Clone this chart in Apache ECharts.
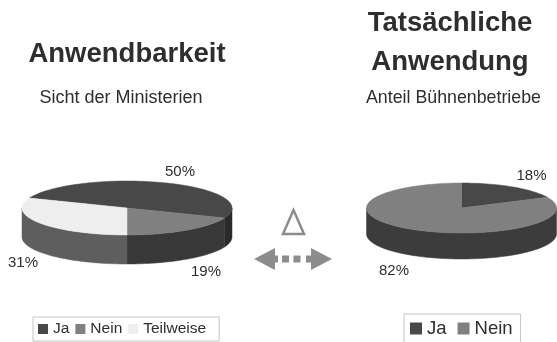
<!DOCTYPE html>
<html>
<head>
<meta charset="utf-8">
<style>html,body{margin:0;padding:0;background:#fff}#chart{width:557px;height:342px}</style>
<script src="https://cdn.jsdelivr.net/npm/echarts@6/dist/echarts.min.js"></script>
</head>
<body>
<div id="chart"></div>
<script>
// Anteile je Antwort, in Prozent
const leftCategories = ['Ja', 'Nein', 'Teilweise'];
const leftValues = [50, 19, 31];
const rightCategories = ['Ja', 'Nein'];
const rightValues = [18, 82];

const FONT = '"Liberation Sans", Arial, sans-serif';
const topColors = { Ja: '#484848', Nein: '#808080', Teilweise: '#eeeeee' };
const leftSideColors = { Ja: '#2a2a2a', Nein: '#383838', Teilweise: '#5e5e5e' };
const rightSideColors = { Ja: '#2a2a2a', Nein: '#3c3c3c' };

const leftPie = { cx: 127, cy: 208, rx: 105, ry: 27, depth: 29, startDeg: 201.6 };
const rightPie = { cx: 461.5, cy: 208, rx: 95, ry: 25, depth: 26, startDeg: -90 };

function ellipsePoint(pie, deg, dy) {
  const t = deg * Math.PI / 180;
  return [pie.cx + pie.rx * Math.cos(t), pie.cy + pie.ry * Math.sin(t) + (dy || 0)];
}

function arcPoints(pie, from, to, dy) {
  const pts = [];
  const steps = Math.max(2, Math.ceil(Math.abs(to - from) / 2));
  for (let i = 0; i <= steps; i++) pts.push(ellipsePoint(pie, from + (to - from) * i / steps, dy));
  return pts;
}

// Sichtbare Mantelstücke einer Scheibe: nur der Teil zwischen 0° und 180°
function frontRanges(from, to) {
  const out = [];
  for (let k = -1; k <= 2; k++) {
    const a = Math.max(from, 360 * k), b = Math.min(to, 360 * k + 180);
    if (b > a) out.push([a, b]);
  }
  return out;
}

// Eine Serie je Tortenstück, damit die Legende echte Einträge bekommt
function sliceSeries(pie, categories, values, sideColors) {
  const total = values.reduce((s, v) => s + v, 0);
  let acc = 0;
  return categories.map((name, i) => {
    const from = pie.startDeg + acc / total * 360;
    acc += values[i];
    const to = pie.startDeg + acc / total * 360;
    return {
      type: 'custom',
      name,
      coordinateSystem: 'none',
      silent: true,
      itemStyle: { color: topColors[name] },
      data: [[values[i]]],
      renderItem() {
        const children = frontRanges(from, to).map(([a, b]) => ({
          type: 'polygon',
          shape: { points: arcPoints(pie, a, b, 0).concat(arcPoints(pie, b, a, pie.depth)) },
          style: { fill: sideColors[name], stroke: sideColors[name], lineWidth: 0.5 }
        }));
        children.push({
          type: 'polygon',
          shape: { points: [[pie.cx, pie.cy]].concat(arcPoints(pie, from, to, 0)) },
          style: { fill: topColors[name], stroke: topColors[name], lineWidth: 0.5 }
        });
        return { type: 'group', children };
      }
    };
  });
}

function label(text, x, y, size, weight, color) {
  return {
    type: 'text', x, y, z: 20,
    style: {
      text, fill: color || '#2e2e2e', font: (weight || 'normal') + ' ' + size + 'px ' + FONT,
      textAlign: 'center', textVerticalAlign: 'middle'
    }
  };
}

function legendBox(names, left, top, size, itemSize, padding, gap) {
  return {
    data: names, left, top, orient: 'horizontal',
    padding, itemGap: gap, itemWidth: itemSize, itemHeight: itemSize,
    icon: 'rect', selectedMode: false, borderColor: '#c4c4c4', borderWidth: 1,
    backgroundColor: '#ffffff',
    textStyle: { fontFamily: FONT, fontSize: size, color: '#2e2e2e' }
  };
}

const arrowGray = '#8c8c8c';
const decorations = [
  label('Anwendbarkeit', 127, 54, 27.5, 'bold'),
  label('Sicht der Ministerien', 121, 98, 18),
  label('Tatsächliche', 450, 23, 27.5, 'bold'),
  label('Anwendung', 450, 62, 27.5, 'bold'),
  label('Anteil Bühnenbetriebe', 453.5, 98, 17.8),
  label(leftValues[0] + '%', 180, 172, 15),
  label(leftValues[1] + '%', 206, 272, 15),
  label(leftValues[2] + '%', 23, 263, 15),
  label(rightValues[0] + '%', 531.5, 176, 15),
  label(rightValues[1] + '%', 394, 271, 15),
  // Dreieck für die Differenz
  { type: 'polygon', shape: { points: [[293.5, 210], [283, 234], [304, 234]] },
    style: { fill: 'none', stroke: arrowGray, lineWidth: 2.5 } },
  // Gestrichelter Doppelpfeil
  { type: 'polygon', shape: { points: [[254, 259], [275, 248], [275, 270]] }, style: { fill: arrowGray } },
  { type: 'polygon', shape: { points: [[332, 259], [311, 248], [311, 270]] }, style: { fill: arrowGray } },
  { type: 'rect', shape: { x: 274, y: 255.5, width: 4, height: 7 }, style: { fill: arrowGray } },
  { type: 'rect', shape: { x: 282, y: 255.5, width: 7, height: 7 }, style: { fill: arrowGray } },
  { type: 'rect', shape: { x: 293.5, y: 255.5, width: 7, height: 7 }, style: { fill: arrowGray } },
  { type: 'rect', shape: { x: 306, y: 255.5, width: 6, height: 7 }, style: { fill: arrowGray } }
];

const chart = echarts.init(document.getElementById('chart'), null, { renderer: 'canvas' });
chart.setOption({
  animation: false,
  backgroundColor: '#ffffff',
  legend: [
    legendBox(leftCategories, 33, 317, 15.5, 10, [4, 13, 4, 5], 6),
    legendBox(rightCategories, 404, 314, 18.5, 12, [5, 8, 5, 6], 11)
  ],
  graphic: { elements: decorations },
  series: sliceSeries(leftPie, leftCategories, leftValues, leftSideColors)
    .concat(sliceSeries(rightPie, rightCategories, rightValues, rightSideColors))
});
</script>
</body>
</html>
